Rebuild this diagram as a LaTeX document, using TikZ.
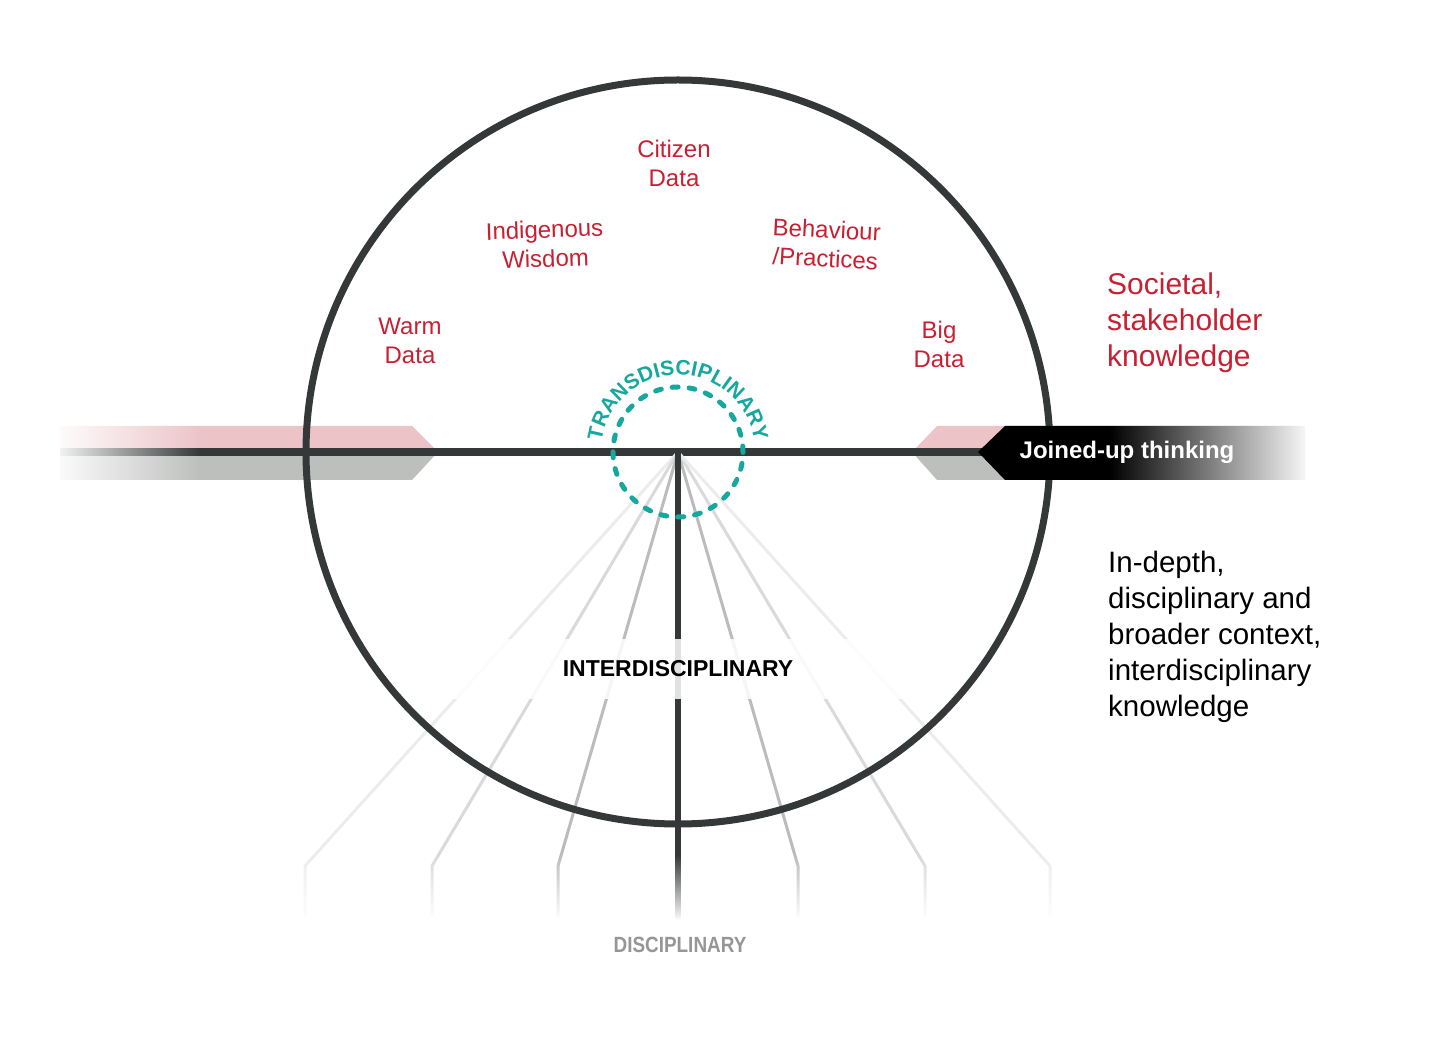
\documentclass[tikz,border=0pt]{standalone}
\usepackage{fontspec}
\setmainfont{Liberation Sans}
\newfontfamily\condsans[FakeStretch=0.86]{Liberation Sans}
\usepackage{xcolor}
\usepackage{tikz}
\usetikzlibrary{positioning,calc,fadings,decorations.text}
\definecolor{knowred}{RGB}{200, 32, 50}
\definecolor{transteal}{RGB}{22, 168, 158}
\definecolor{ringgray}{RGB}{52, 56, 56}
\definecolor{bandpink}{RGB}{236, 196, 200}
\definecolor{bandgray}{RGB}{189, 191, 189}
\definecolor{fanmid}{RGB}{188, 188, 188}
\definecolor{fanpale}{RGB}{218, 218, 218}
\definecolor{fanfaint}{RGB}{236, 236, 236}
\definecolor{discgray}{RGB}{150, 150, 150}
\tikzfading[name=fadeleftwhite, left color=transparent!0, middle color=transparent!55, right color=transparent!100]
\tikzfading[name=faderightwhite, left color=transparent!100, middle color=transparent!60, right color=transparent!0]
\tikzfading[name=fadebottomwhite, top color=transparent!100, bottom color=transparent!0]

\begin{document}
\begin{tikzpicture}[x=1pt, y=1pt,
    datalabel/.style={text=knowred, align=center, font=\fontsize{24}{29}\selectfont},
    sidetext/.style={anchor=west, align=left, inner sep=0pt, font=\fontsize{29.5}{36}\selectfont}]
    \useasboundingbox (0,0) rectangle (1431,1037);
    \coordinate (hub) at (678,585);
    \coordinate (lineW) at (60,585);
    \coordinate (lineE) at (1305,585);

    % Knowledge bands
    \fill[bandpink] (60,611) -- (412,611) -- (438,585) -- (60,585) -- cycle;
    \fill[bandgray] (60,585) -- (438,585) -- (412,557) -- (60,557) -- cycle;
    \fill[bandpink] (1305,611) -- (937,611) -- (912,585) -- (1305,585) -- cycle;
    \fill[bandgray] (1305,585) -- (912,585) -- (937,557) -- (1305,557) -- cycle;
    \draw[ringgray, line width=8pt] (lineW) -- (lineE);

    % Disciplinary fan
    \foreach \fx/\fcol in {305/fanfaint, 432/fanpale, 558/fanmid, 798/fanmid, 925/fanpale, 1050/fanfaint} {
        \draw[\fcol, line width=3pt, line join=round] (hub) -- (\fx,171) -- (\fx,120);
    }
    \draw[ringgray, line width=6pt, line cap=round] (hub) -- (678,120);

    % Interdisciplinary label
    \node[fill=white, fill opacity=0.85, text opacity=1, minimum width=520pt, minimum height=60pt,
          font=\fontsize{23}{23}\selectfont\bfseries] (inter) at (678,368) {INTERDISCIPLINARY};

    % Ring
    \draw[ringgray, line width=7pt] (hub) circle[radius=372];

    % Joined-up arrow
    \fill[black] (978,585) -- (1005,611) -- (1305,611) -- (1305,557) -- (1005,557) -- cycle;

    % Fade-outs
    \fill[white, path fading=fadeleftwhite] (50,545) rectangle (200,625);
    \fill[white, path fading=faderightwhite] (1110,545) rectangle (1312,625);
    \fill[white, path fading=fadebottomwhite] (290,116) rectangle (1070,182);

    % Transdisciplinary
    \draw[transteal, line width=5pt, line cap=round, dash pattern=on 6pt off 11pt] (hub) circle[radius=65];
    \path[decorate, decoration={text along path, text color=transteal, text align=center,
          text={|\fontsize{21}{21}\selectfont\bfseries|TRANSDISCIPLINARY}}]
        ($(hub)+(170:77)$) arc[start angle=170, end angle=10, radius=77];

    % Data sources
    \node[datalabel] (citizen) at (674,874) {Citizen\\Data};
    \node[datalabel, rotate=2] (indigenous) at (545,793) {Indigenous\\Wisdom};
    \node[datalabel, rotate=-3] (behaviour) at (826,793) {Behaviour\\/Practices};
    \node[datalabel] (warm) at (410,696) {Warm\\Data};
    \node[datalabel] (bigdata) at (939,693) {Big\\Data};

    % Side texts
    \node[sidetext, text=knowred, font=\fontsize{30}{36}\selectfont] (societal) at (1107,714) {Societal,\\stakeholder\\knowledge};
    \node[sidetext] (indepth) at (1108,400) {In-depth,\\disciplinary and\\broader context,\\interdisciplinary\\knowledge};
    \node[text=white, font=\fontsize{24}{24}\selectfont\bfseries] (joined) at (1127,585) {Joined-up thinking};
    \node[text=discgray, font=\condsans\fontsize{22}{22}\selectfont\bfseries] (disc) at (680,92) {DISCIPLINARY};
\end{tikzpicture}
\end{document}
